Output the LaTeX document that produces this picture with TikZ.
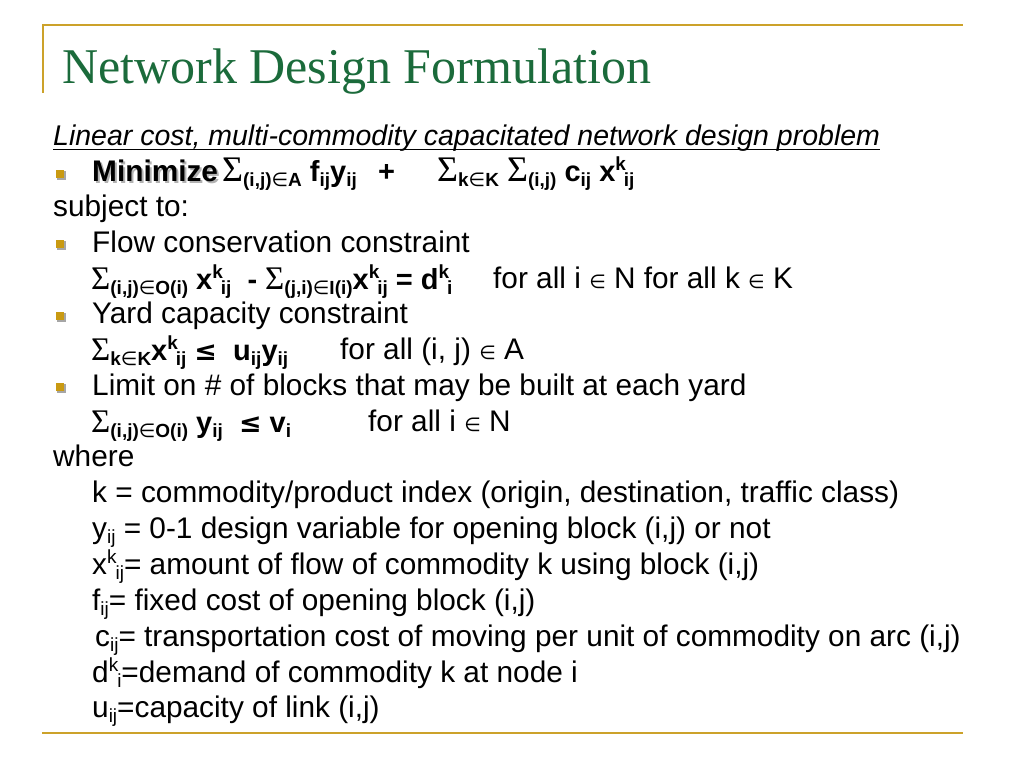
\documentclass[tikz,border=0pt]{standalone}
\usepackage{fontspec}
\setmainfont{Liberation Sans}
\newfontfamily\serifT{Liberation Serif}
\newfontfamily\djv{DejaVu Sans}
\usetikzlibrary{shadows}
\definecolor{titlegreen}{HTML}{1B6B3B}
\definecolor{rulegold}{HTML}{CCA22A}
\definecolor{bulletgold}{HTML}{C99A12}
\newcommand\Sg{{\serifT\mdseries\fontsize{36}{36}\selectfont Σ}}
\newcommand\Sgs{{\serifT\mdseries\fontsize{33}{33}\selectfont Σ}}
\newcommand\mem{{\djv\mdseries ∈}}
\newcommand\memt{{\djv\mdseries\fontsize{19}{19}\selectfont ∈}}
\newcommand\leqb{{\djv\bfseries\fontsize{27}{27}\selectfont ≤}}
\newcommand\dn[1]{\raisebox{-5pt}{\fontsize{19}{19}\selectfont #1}}
\newcommand\up[1]{\raisebox{11pt}{\fontsize{19}{19}\selectfont #1}}
\newcommand\ud[2]{\rlap{\up{#1}}\hspace{8.5pt}\dn{#2}}
\tikzset{
  txt/.style={anchor=base west, inner sep=0pt, font=\fontsize{29.8}{34}\selectfont},
  frm/.style={anchor=base west, inner sep=0pt, font=\fontsize{29}{33}\selectfont\bfseries},
  ttl/.style={anchor=base west, inner sep=0pt, text=titlegreen, font=\serifT\fontsize{50}{54}\selectfont},
  bulletsq/.style={fill=bulletgold, minimum size=8.5pt, inner sep=0pt, draw=none,
    drop shadow={shadow xshift=1.5pt, shadow yshift=-1.5pt, fill=black!35, opacity=1}},
  goldrule/.style={draw=rulegold, line width=1.6pt}
}
\begin{document}
\begin{tikzpicture}[x=1pt,y=-1pt]
\useasboundingbox (0,0) rectangle (1024,768);
\fill[white] (0,0) rectangle (1024,768);
% frame rules
\coordinate (tl) at (42,25); \coordinate (tr) at (963,25);
\coordinate (vl) at (43,93);
\coordinate (bl) at (42,733); \coordinate (br) at (963,733);
\draw[goldrule] (tl) -- (tr);
\draw[goldrule] ([xshift=1pt]tl) -- (vl);
\draw[goldrule, line width=2.2pt] (bl) -- (br);
% title
\node[ttl] (title) at (62,83) {Network Design Formulation};
% subtitle
\node[txt, font=\fontsize{28.5}{32}\selectfont\itshape] (lin) at (53,145) {Linear cost, multi-commodity capacitated network design problem};
\draw[line width=1pt] ([yshift=-4.5pt]lin.base west) -- ([yshift=-4.5pt]lin.base east);
% bullets
\node[bulletsq] (b1) at (60,174) {};
\node[bulletsq] (b2) at (60,244) {};
\node[bulletsq] (b3) at (60,316) {};
\node[bulletsq] (b4) at (60,387) {};
% objective
\node[txt, text=black!30] (minsh) at (94,183) {\bfseries Minimize};
\node[txt] (min) at (92,181) {\bfseries Minimize};
\node[frm] (obj1) at (222,181) {\Sg\dn{(i,j)\mem A} f\dn{ij}y\dn{ij}};
\node[frm] (plus) at (378,181) {+};
\node[frm] (obj2) at (437,181) {\Sg\dn{k\mem K} \Sg\dn{(i,j)} c\dn{ij} x\ud{k}{ij}};
\node[txt] (subj) at (53,216) {subject to:};
% flow conservation
\node[txt] (flow) at (92,252) {Flow conservation constraint};
\node[frm] (fc) at (91,289) {\Sgs\dn{(i,j)\mem O(i)} x\ud{k}{ij} \ - \Sgs\dn{(j,i)\mem I(i)}x\ud{k}{ij} = d\ud{k}{i}};
\node[txt] (fcq) at (493,288) {for all i \memt\ N for all k \memt\ K};
% yard capacity
\node[txt] (yard) at (92,323) {Yard capacity constraint};
\node[frm] (yc) at (91,360) {\Sgs\dn{k\mem K}x\ud{k}{ij} \leqb\ \ u\dn{ij}y\dn{ij}};
\node[txt] (ycq) at (340,359) {for all (i, j) \memt\ A};
% limit
\node[txt] (lim) at (92,395) {Limit on \# of blocks that may be built at each yard};
\node[frm] (lc) at (91,432) {\Sgs\dn{(i,j)\mem O(i)} y\dn{ij} \ \leqb\ v\dn{i}};
\node[txt] (lcq) at (368,431) {for all i \memt\ N};
% where
\node[txt] (where) at (53,466) {where};
\node[txt] (dk) at (92,502) {k = commodity/product index (origin, destination, traffic class)};
\node[txt] (dy) at (92,538) {y\dn{ij} = 0-1 design variable for opening block (i,j) or not};
\node[txt] (dx) at (92,574) {x\ud{k}{ij}= amount of flow of commodity k using block (i,j)};
\node[txt] (df) at (92,610) {f\dn{ij}= fixed cost of opening block (i,j)};
\node[txt] (dc) at (95,646) {c\dn{ij}= transportation cost of moving per unit of commodity on arc (i,j)};
\node[txt] (dd) at (92,682) {d\ud{k}{i}=demand of commodity k at node i};
\node[txt] (du) at (92,717) {u\dn{ij}=capacity of link (i,j)};
\end{tikzpicture}
\end{document}
